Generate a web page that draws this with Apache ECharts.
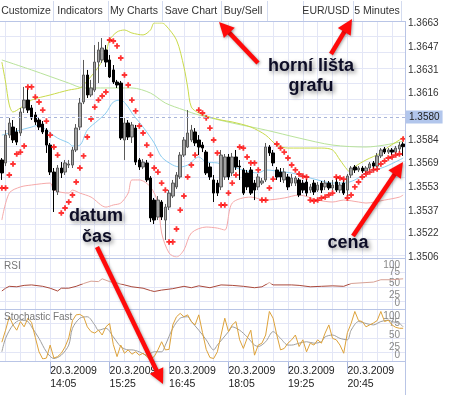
<!DOCTYPE html>
<html><head><meta charset="utf-8">
<script src="https://cdn.jsdelivr.net/npm/echarts@6/dist/echarts.min.js"></script>
<style>html,body{margin:0;padding:0;background:#fff}#c{width:450px;height:395px}</style>
</head><body><div id="c"></div>
<script>
// ---------- data ----------
const dateLabel = '20.3.2009';
const times = ['13:00','13:05','13:10','13:15','13:20','13:25','13:30','13:35','13:40','13:45','13:50','13:55',
'14:00','14:05','14:10','14:15','14:20','14:25','14:30','14:35','14:40','14:45','14:50','14:55',
'15:00','15:05','15:10','15:15','15:20','15:25','15:30','15:35','15:40','15:45','15:50','15:55',
'16:00','16:05','16:10','16:15','16:20','16:25','16:30','16:35','16:40','16:45','16:50','16:55',
'17:00','17:05','17:10','17:15','17:20','17:25','17:30','17:35','17:40','17:45','17:50','17:55',
'18:00','18:05','18:10','18:15','18:20','18:25','18:30','18:35','18:40','18:45','18:50','18:55',
'19:00','19:05','19:10','19:15','19:20','19:25','19:30','19:35','19:40','19:45','19:50','19:55',
'20:00','20:05','20:10','20:15','20:20','20:25','20:30','20:35','20:40','20:45','20:50','20:55',
'21:00','21:05','21:10','21:15','21:20','21:25','21:30','21:35','21:40','21:45','21:50','21:55','22:00'];
const labelTimes = ['14:05','15:25','16:45','18:05','19:25','20:45'];
const priceTicks = ['1.3506','1.3522','1.3537','1.3553','1.3569','1.3584','1.3600','1.3616','1.3631','1.3647','1.3663'];
const oscInnerTicks = [25,50,75];
const oscOuterTicks = [0,100];
const currentPrice = 1.3580;

const opens = [1.35711,1.35691,1.35878,1.35932,1.35899,1.35892,1.36060,1.36113,1.36060,1.36013,1.35979,1.35952,1.35912,1.35811,1.35630,1.35496,1.35657,1.35630,1.35677,1.35677,1.35778,1.35932,1.36100,1.36281,1.36147,1.36180,1.36368,1.36382,1.36449,1.36382,1.36315,1.36234,1.36227,1.35845,1.35959,1.35865,1.35925,1.35711,1.35664,1.35691,1.35590,1.35442,1.35328,1.35429,1.35308,1.35395,1.35469,1.35530,1.35597,1.35744,1.35798,1.35845,1.35899,1.35845,1.35811,1.35764,1.35664,1.35577,1.35556,1.35530,1.35597,1.35731,1.35624,1.35731,1.35670,1.35644,1.35624,1.35644,1.35556,1.35530,1.35556,1.35577,1.35798,1.35758,1.35644,1.35630,1.35577,1.35597,1.35556,1.35556,1.35577,1.35556,1.35563,1.35509,1.35556,1.35509,1.35556,1.35530,1.35556,1.35523,1.35563,1.35509,1.35556,1.35509,1.35610,1.35664,1.35644,1.35657,1.35637,1.35657,1.35691,1.35670,1.35738,1.35785,1.35764,1.35778,1.35764,1.35785,1.35818];
const closes = [1.35624,1.35878,1.35959,1.35845,1.35831,1.36033,1.36113,1.36046,1.35993,1.35966,1.35932,1.35899,1.35811,1.35630,1.35509,1.35657,1.35624,1.35691,1.35684,1.35778,1.35925,1.36093,1.36281,1.36147,1.36194,1.36368,1.36449,1.36462,1.36368,1.36268,1.36234,1.36214,1.35858,1.35959,1.35865,1.35946,1.35697,1.35664,1.35697,1.35577,1.35322,1.35308,1.35442,1.35328,1.35395,1.35489,1.35556,1.35610,1.35744,1.35845,1.35892,1.35912,1.35825,1.35798,1.35791,1.35624,1.35597,1.35489,1.35489,1.35744,1.35731,1.35597,1.35731,1.35664,1.35664,1.35489,1.35530,1.35489,1.35509,1.35597,1.35570,1.35798,1.35758,1.35691,1.35597,1.35597,1.35630,1.35530,1.35590,1.35590,1.35476,1.35509,1.35489,1.35530,1.35496,1.35543,1.35509,1.35556,1.35523,1.35543,1.35509,1.35543,1.35489,1.35603,1.35657,1.35644,1.35657,1.35637,1.35657,1.35684,1.35670,1.35738,1.35778,1.35764,1.35778,1.35764,1.35791,1.35811,1.35800];
const highs = [1.35724,1.35912,1.35993,1.35979,1.35925,1.36060,1.36201,1.36194,1.36080,1.36033,1.35993,1.35972,1.35925,1.35825,1.35657,1.35677,1.35697,1.35711,1.35711,1.35798,1.35952,1.36127,1.36382,1.36315,1.36248,1.36482,1.36503,1.36529,1.36482,1.36415,1.36348,1.36248,1.36241,1.35993,1.35979,1.35966,1.35946,1.35724,1.35717,1.35711,1.35603,1.35456,1.35469,1.35442,1.35416,1.35509,1.35577,1.35630,1.35764,1.35865,1.36046,1.35946,1.35925,1.35878,1.35831,1.35778,1.35691,1.35610,1.35577,1.35778,1.35751,1.35751,1.35758,1.35778,1.35711,1.35657,1.35644,1.35664,1.35577,1.35617,1.35590,1.35825,1.35811,1.35778,1.35664,1.35657,1.35657,1.35617,1.35617,1.35603,1.35590,1.35577,1.35583,1.35550,1.35577,1.35563,1.35570,1.35577,1.35570,1.35577,1.35590,1.35563,1.35577,1.35617,1.35670,1.35677,1.35670,1.35670,1.35670,1.35697,1.35704,1.35758,1.35791,1.35798,1.35791,1.35791,1.35805,1.35831,1.35831];
const lows = [1.35577,1.35670,1.35858,1.35825,1.35811,1.35872,1.36026,1.36026,1.35979,1.35946,1.35912,1.35885,1.35758,1.35610,1.35362,1.35476,1.35590,1.35610,1.35657,1.35657,1.35764,1.35912,1.36086,1.36127,1.36133,1.36167,1.36227,1.36362,1.36335,1.36261,1.36221,1.36194,1.35845,1.35711,1.35845,1.35825,1.35677,1.35644,1.35650,1.35563,1.35295,1.35281,1.35308,1.35308,1.35174,1.35375,1.35456,1.35516,1.35583,1.35731,1.35791,1.35831,1.35805,1.35744,1.35764,1.35610,1.35577,1.35429,1.35469,1.35509,1.35577,1.35577,1.35603,1.35644,1.35577,1.35476,1.35509,1.35476,1.35442,1.35509,1.35543,1.35563,1.35738,1.35670,1.35577,1.35563,1.35556,1.35509,1.35536,1.35536,1.35462,1.35489,1.35469,1.35489,1.35476,1.35496,1.35489,1.35509,1.35509,1.35509,1.35496,1.35489,1.35476,1.35469,1.35590,1.35624,1.35630,1.35624,1.35624,1.35644,1.35650,1.35664,1.35724,1.35751,1.35751,1.35744,1.35751,1.35764,1.35738];
const sar = [1.35523,1.35523,1.35610,1.35684,1.35751,1.35764,1.35805,1.36201,1.36201,1.36133,1.36100,1.36046,1.35972,1.35878,1.35798,1.35744,1.35355,1.35389,1.35429,1.35476,1.35563,1.35657,1.35738,1.35865,1.35986,1.36066,1.36113,1.36140,1.36167,1.36516,1.36509,1.36476,1.36395,1.36281,1.36214,1.36113,1.36040,1.35939,1.35892,1.35811,1.35744,1.35657,1.35630,1.35556,1.35509,1.35161,1.35161,1.35248,1.35375,1.35469,1.35597,1.35677,1.35744,1.36046,1.36026,1.35993,1.35925,1.35845,1.35758,1.35409,1.35409,1.35489,1.35556,1.35610,1.35798,1.35791,1.35731,1.35691,1.35691,1.35644,1.35442,1.35442,1.35523,1.35583,1.35818,1.35791,1.35764,1.35724,1.35677,1.35644,1.35617,1.35603,1.35597,1.35442,1.35436,1.35442,1.35456,1.35462,1.35476,1.35489,1.35597,1.35590,1.35583,1.35456,1.35476,1.35530,1.35563,1.35597,1.35617,1.35630,1.35644,1.35650,1.35684,1.35704,1.35724,1.35731,1.35744,1.35751,1.35852];
const upperBand = [[0,1.36368],[1,1.36234],[2,1.36080],[3,1.36033],[5,1.36060],[8,1.36113],[13,1.36147],[18,1.36180],[21,1.36194],[22,1.36214],[26,1.36335],[28,1.36429],[29,1.36516],[31,1.36570],[33,1.36583],[35,1.36563],[38,1.36550],[40,1.36583],[41,1.36630],[43,1.36630],[44,1.36617],[47,1.36516],[49,1.36335],[50,1.36201],[51,1.36066],[53,1.36026],[56,1.35999],[59,1.35979],[62,1.35966],[67,1.35932],[71,1.35878],[74,1.35811],[77,1.35791],[80,1.35791],[86,1.35791],[89,1.35778],[91,1.35711],[93,1.35644],[94,1.35624],[95,1.35664],[98,1.35711],[102,1.35758],[104,1.35798],[107,1.35845],[108,1.35865]];
const longMA = [[0,1.36382],[8,1.36315],[18,1.36227],[22,1.36194],[28,1.36194],[35,1.36194],[40,1.36160],[44,1.36093],[49,1.36046],[53,1.36013],[62,1.35959],[71,1.35912],[80,1.35858],[89,1.35811],[98,1.35798],[103,1.35811],[107,1.35831],[108,1.35838]];
const shortMA = [[0,1.35878],[2,1.35892],[5,1.35912],[8,1.35932],[10,1.35946],[12,1.35912],[15,1.35858],[18,1.35825],[19,1.35805],[21,1.35811],[23,1.35912],[26,1.35979],[28,1.36026],[30,1.36100],[32,1.36113],[34,1.36066],[35,1.36026],[38,1.35932],[41,1.35825],[43,1.35731],[46,1.35677],[48,1.35664],[50,1.35677],[53,1.35731],[55,1.35697],[58,1.35691],[62,1.35664],[67,1.35630],[69,1.35624],[71,1.35644],[76,1.35630],[78,1.35624],[82,1.35597],[85,1.35577],[89,1.35556],[92,1.35556],[95,1.35577],[98,1.35624],[103,1.35664],[107,1.35711],[108,1.35724]];
const lowerBand = [[0,1.35308],[2,1.35489],[5,1.35530],[8,1.35543],[13,1.35556],[14,1.35509],[18,1.35489],[19,1.35509],[21,1.35489],[24,1.35462],[28,1.35395],[30,1.35409],[32,1.35422],[34,1.35489],[35,1.35577],[37,1.35577],[40,1.35530],[42,1.35422],[43,1.35221],[45,1.35087],[47,1.35060],[49,1.35107],[51,1.35221],[55,1.35261],[58,1.35254],[60,1.35241],[62,1.35422],[67,1.35462],[71,1.35442],[76,1.35456],[80,1.35476],[85,1.35442],[89,1.35429],[92,1.35442],[96,1.35429],[98,1.35422],[103,1.35442],[107,1.35462],[108,1.35476]];
const rsi = [[0,34],[1,40],[2,44],[4,43],[6,46],[8,47],[11,44],[13,40],[15,34],[16,40],[18,40],[20,44],[22,50],[24,55],[26,54],[27,60],[29,54],[31,51],[33,47],[35,43],[38,40],[40,35],[41,33],[43,36],[46,39],[49,44],[51,41],[53,45],[56,41],[59,47],[62,46],[65,44],[68,41],[70,43],[72,52],[73,47],[78,47],[80,46],[83,43],[86,44],[89,45],[92,44],[94,50],[98,52],[100,53],[102,58],[105,58],[108,60]];
const stochK = [35,60,88,71,60,78,67,85,76,45,15,0,2,29,2,5,12,25,44,80,92,93,88,67,57,54,60,50,67,74,30,5,29,12,19,10,15,8,12,5,0,5,19,36,19,20,71,88,95,88,92,78,71,92,55,20,3,1,15,50,85,57,71,78,40,22,43,60,8,29,33,50,99,85,50,19,22,33,40,50,26,40,15,33,29,40,33,54,71,43,40,29,12,55,74,99,80,78,67,71,75,80,99,78,81,71,66,64,64];
const stochD = [[0,15],[1,43],[3,71],[5,81],[7,78],[8,67],[10,43],[12,15],[14,1],[16,8],[18,29],[19,64],[21,85],[23,88],[25,71],[26,60],[28,64],[30,46],[32,26],[34,19],[35,19],[37,15],[39,8],[41,15],[43,15],[44,29],[46,64],[48,85],[50,88],[51,78],[53,60],[55,40],[57,19],[58,29],[61,57],[62,67],[64,60],[66,46],[68,29],[69,26],[71,36],[73,57],[75,43],[77,29],[78,29],[80,33],[82,36],[84,33],[86,36],[87,46],[89,50],[91,43],[93,40],[94,60],[96,78],[98,74],[100,71],[102,78],[104,81],[105,78],[107,74],[108,67]];
const toolbarButtons = ['Customize','Indicators','My Charts','Save Chart','Buy/Sell','EUR/USD','5 Minutes'];

// ---------- layout / style ----------
const FONT = 'Liberation Sans, Arial, sans-serif';
const PLOT_W = 405;
const latticeColor = '#e3e6f6';
const frameColor = '#b9c5e6';
const candleData = opens.map((o, i) => [o, closes[i], lows[i], highs[i]]);
const everyFour = (idx) => idx % 4 === 1;
const isLabel = (idx, val) => labelTimes.indexOf(val) >= 0;

const chart = echarts.init(document.getElementById('c'), null, {renderer: 'canvas'});

function arrow(tail, tip) {
  const dx = tip[0] - tail[0], dy = tip[1] - tail[1];
  const len = Math.hypot(dx, dy), ux = dx / len, uy = dy / len;
  const L = 15, W = 7.5;
  const bx = tip[0] - ux * L, by = tip[1] - uy * L;
  const sh = {shadowBlur: 3, shadowColor: 'rgba(0,0,0,0.35)', shadowOffsetX: 1, shadowOffsetY: 1};
  return [
    {type: 'line', z: 100, shape: {x1: tail[0], y1: tail[1], x2: bx + ux * 2, y2: by + uy * 2},
     style: Object.assign({stroke: '#ff0a0a', lineWidth: 4.5}, sh)},
    {type: 'polygon', z: 100, shape: {points: [tip, [bx - uy * W, by + ux * W], [bx + uy * W, by - ux * W]]},
     style: Object.assign({fill: '#ff0a0a'}, sh)}
  ];
}
function label(text, x, y, opts) {
  return {type: 'text', z: 101, style: Object.assign({text: text, x: x, y: y, fill: '#333',
    font: '10px ' + FONT, align: 'left', verticalAlign: 'middle', textAlign: 'left', textVerticalAlign: 'middle'}, opts || {})};
}
function note(text, x, y) {
  return {type: 'text', z: 102, style: {text: text, x: x, y: y, fill: '#0d0d26',
    font: 'bold 18px ' + FONT, align: 'center', verticalAlign: 'middle', textAlign: 'center', textVerticalAlign: 'middle',
    textShadowBlur: 4, textShadowColor: 'rgba(0,0,0,0.45)', textShadowOffsetX: 2, textShadowOffsetY: 2}};
}

const btnCenters = [26, 80, 134, 191, 243, 326, 377];
const separators = [53, 108, 162, 221, 267, 303, 353, 401];
const graphics = [];
separators.forEach(x => graphics.push({type: 'line', z: 91, shape: {x1: x + 0.5, y1: 1, x2: x + 0.5, y2: 21}, style: {stroke: '#d3dbef', lineWidth: 1}}));
graphics.push({type: 'line', z: 91, shape: {x1: 0, y1: 21.5, x2: PLOT_W, y2: 21.5}, style: {stroke: frameColor, lineWidth: 1}});
toolbarButtons.forEach((t, i) => graphics.push(label(t, btnCenters[i], 11, {align: 'center', textAlign: 'center', fill: '#333', font: '10.5px ' + FONT})));
[258.5, 309.5, 361.5].forEach(y => graphics.push({type: 'line', z: 5, shape: {x1: 0, y1: y, x2: PLOT_W, y2: y}, style: {stroke: frameColor, lineWidth: 1}}));
graphics.push({type: 'line', z: 5, shape: {x1: PLOT_W + 0.5, y1: 21, x2: PLOT_W + 0.5, y2: 395}, style: {stroke: frameColor, lineWidth: 1}});
graphics.push(label('RSI', 4, 266, {fill: '#777'}));
graphics.push(label('Stochastic Fast', 4, 317, {fill: '#777'}));
graphics.push(...arrow([258, 63], [219, 22]));
graphics.push(...arrow([331, 54], [352, 19]));
graphics.push(...arrow([97, 247], [163, 384]));
graphics.push(...arrow([353, 236], [403, 162]));
graphics.push(note('horní lišta', 311, 66));
graphics.push(note('grafu', 311, 86));
graphics.push(note('datum', 96, 216));
graphics.push(note('čas', 97, 237));
graphics.push(note('cena', 348, 243));

// oscillator scale labels: 25/50/75 on one axis, 0/100 on an overlaid axis pulled inside the panel
const oscInnerLabel = {customValues: oscInnerTicks, inside: true, margin: 5, color: '#888', fontSize: 10};
const oscOuterLabel = {customValues: oscOuterTicks, inside: true, margin: 5, color: '#888', fontSize: 10,
  showMinLabel: true, showMaxLabel: true,
  formatter: v => v === 100 ? '{t|100}' : '{b|0}',
  rich: {t: {padding: [10, 0, 0, 0], color: '#888', fontSize: 10}, b: {padding: [0, 0, 8, 0], color: '#888', fontSize: 10}}};
function oscAxis(grid, lab) {
  return {type: 'value', gridIndex: grid, position: 'right', min: 0, max: 100,
    axisLine: {show: false}, axisTick: {show: false}, splitLine: {show: false}, axisLabel: lab};
}
// RSI colour: lighter above the 50 level (panel 260..307 px)
const rsiColor = {type: 'linear', x: 0, y: 260, x2: 0, y2: 307, global: true,
  colorStops: [{offset: 0, color: '#d6a094'}, {offset: 0.5, color: '#d6a094'}, {offset: 0.5, color: '#a9483a'}, {offset: 1, color: '#a9483a'}]};

const option = {
  animation: false,
  backgroundColor: '#fff',
  textStyle: {fontFamily: FONT},
  grid: [
    {left: 0, top: 23, width: PLOT_W, height: 234},
    {left: 0, top: 260, width: PLOT_W, height: 47},
    {left: 0, top: 311, width: PLOT_W, height: 48},
    {left: 0, top: 21, width: PLOT_W, height: 340},
    {left: 0, top: 21, width: PLOT_W, height: 237},
    {left: 0, top: 258, width: PLOT_W, height: 51},
    {left: 0, top: 309, width: PLOT_W, height: 52}
  ],
  xAxis: [
    {type: 'category', gridIndex: 0, data: times, show: false},
    {type: 'category', gridIndex: 1, data: times, show: false},
    {type: 'category', gridIndex: 2, data: times, show: false},
    {type: 'category', gridIndex: 3, data: times, position: 'bottom',
     axisLine: {show: false},
     axisTick: {show: true, alignWithLabel: true, interval: isLabel, length: 12, lineStyle: {color: '#aab8de'}},
     axisLabel: {interval: isLabel, align: 'left', margin: 4, fontSize: 10.5, lineHeight: 12.5, color: '#222',
       formatter: v => dateLabel + '\n' + v},
     splitLine: {show: true, interval: everyFour, alignWithLabel: true, lineStyle: {color: latticeColor, width: 1}}},
    {type: 'value', gridIndex: 4, show: false, min: 0, max: 1},
    {type: 'value', gridIndex: 5, show: false, min: 0, max: 1},
    {type: 'value', gridIndex: 6, show: false, min: 0, max: 1}
  ],
  yAxis: [
    {type: 'value', gridIndex: 0, position: 'right', min: 1.3506, max: 1.3663, scale: true,
     axisLine: {show: false}, axisTick: {show: false}, splitLine: {show: false},
     axisLabel: {customValues: priceTicks.map(Number), formatter: v => v.toFixed(4), margin: 3, color: '#333', fontSize: 10}},
    oscAxis(1, oscInnerLabel),
    oscAxis(2, oscInnerLabel),
    {type: 'value', gridIndex: 3, show: false},
    {type: 'value', gridIndex: 4, inverse: true, min: 0, max: 237, interval: 15.6,
     axisLine: {show: false}, axisTick: {show: false}, axisLabel: {show: false},
     splitLine: {show: true, lineStyle: {color: latticeColor}}},
    {type: 'value', gridIndex: 5, inverse: true, min: 0, max: 51, interval: 14.5,
     axisLine: {show: false}, axisTick: {show: false}, axisLabel: {show: false},
     splitLine: {show: true, lineStyle: {color: latticeColor}}},
    {type: 'value', gridIndex: 6, inverse: true, min: 0, max: 52, interval: 14.5,
     axisLine: {show: false}, axisTick: {show: false}, axisLabel: {show: false},
     splitLine: {show: true, lineStyle: {color: latticeColor}}},
    oscAxis(1, oscOuterLabel),
    oscAxis(2, oscOuterLabel)
  ],
  series: [
    {type: 'line', name: 'longMA', xAxisIndex: 0, yAxisIndex: 0, data: longMA, symbol: 'none', smooth: 0.3,
     lineStyle: {color: '#b9e39b', width: 1}, z: 1},
    {type: 'line', name: 'upper', xAxisIndex: 0, yAxisIndex: 0, data: upperBand, symbol: 'none', smooth: 0.3,
     lineStyle: {color: '#c9da4a', width: 1}, z: 1},
    {type: 'line', name: 'mid', xAxisIndex: 0, yAxisIndex: 0, data: shortMA, symbol: 'none', smooth: 0.3,
     lineStyle: {color: '#8ccdf0', width: 1}, z: 1},
    {type: 'line', name: 'lower', xAxisIndex: 0, yAxisIndex: 0, data: lowerBand, symbol: 'none', smooth: 0.3,
     lineStyle: {color: '#f5a9a9', width: 1}, z: 1},
    {type: 'candlestick', xAxisIndex: 0, yAxisIndex: 0, data: candleData, barWidth: 3, z: 3,
     itemStyle: {color: '#a3a3a3', borderColor: '#5a5a5a', color0: '#000', borderColor0: '#000', borderWidth: 1},
     markLine: {silent: true, symbol: 'none', data: [{yAxis: currentPrice}],
       lineStyle: {type: [3, 3], color: '#a9b5da', width: 1},
       label: {position: 'end', distance: 1, formatter: currentPrice.toFixed(4), backgroundColor: '#b2c6ec',
         color: '#222', padding: [2, 3, 1, 3], fontSize: 10, fontFamily: FONT}}},
    {type: 'scatter', name: 'SAR', xAxisIndex: 0, yAxisIndex: 0, data: sar, z: 4,
     symbol: 'path://M1,0H2V1H3V2H2V3H1V2H0V1H1Z', symbolSize: 5.5, itemStyle: {color: '#ff0000'}},
    {type: 'line', name: 'RSI', xAxisIndex: 1, yAxisIndex: 1, data: rsi, symbol: 'none', lineStyle: {width: 1, color: rsiColor}, z: 3},
    {type: 'line', name: '%D', xAxisIndex: 2, yAxisIndex: 2, data: stochD, symbol: 'none', smooth: 0.3,
     lineStyle: {color: '#9e9e9e', width: 1}, z: 3},
    {type: 'line', name: '%K', xAxisIndex: 2, yAxisIndex: 2, data: stochK, symbol: 'none',
     lineStyle: {color: '#dda23a', width: 1}, z: 4}
  ],
  graphic: {elements: graphics}
};
chart.setOption(option);
</script></body></html>
